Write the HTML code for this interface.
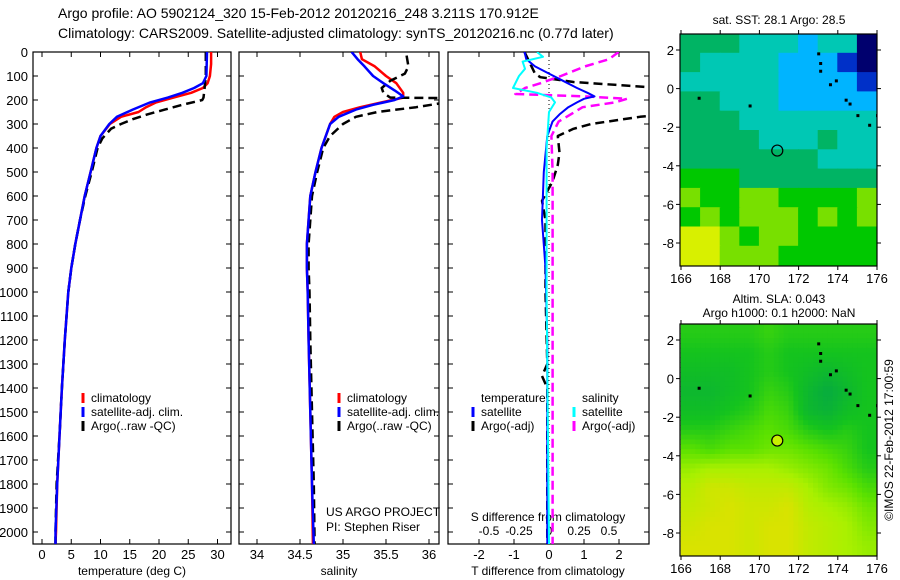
<!DOCTYPE html>
<html><head><meta charset="utf-8"><style>
html,body{margin:0;padding:0;background:#fff;}
svg{display:block;font-family:"Liberation Sans",sans-serif;}
</style></head><body>
<svg id="fig" width="900" height="580" viewBox="0 0 900 580" xmlns="http://www.w3.org/2000/svg">
<text x="58" y="18" font-size="14">Argo profile: AO 5902124_320 15-Feb-2012 20120216_248 3.211S 170.912E</text>
<text x="58" y="38" font-size="14">Climatology: CARS2009. Satellite-adjusted climatology: synTS_20120216.nc (0.77d later)</text>
<text x="779" y="24" font-size="12" text-anchor="middle">sat. SST: 28.1 Argo: 28.5</text>
<text x="779" y="303" font-size="12" text-anchor="middle">Altim. SLA: 0.043</text>
<text x="779" y="317" font-size="12" text-anchor="middle">Argo h1000: 0.1 h2000: NaN</text>
<text transform="translate(893,440) rotate(-90)" font-size="12" text-anchor="middle">©IMOS 22-Feb-2012 17:00:59</text>
<g id="g"></g>
</svg>
<script>
// ---------- data ----------
const depthTicks=[0,100,200,300,400,500,600,700,800,900,1000,1100,1200,1300,1400,1500,1600,1700,1800,1900,2000];
const tempTicks=[0,5,10,15,20,25,30];
const salTicks=[34,34.5,35,35.5,36];
const tdiffTicks=[-2,-1,0,1,2];
const sdiffTicks=[-0.5,-0.25,0,0.25,0.5];
const sdiffTickLabels=['-0.5','-0.25','0','0.25','0.5'];
const lonTicks=[166,168,170,172,174,176];
const latTicks=[2,0,-2,-4,-6,-8];

const tClimDepth=[0,50,100,130,150,170,190,210,230,250,270,300,350,400,500,600,700,800,900,1000,1200,1400,1600,1800,2000,2050];
const tClimVal=[28.9,28.9,28.7,28.3,27.5,25.5,22.5,19.5,17.8,16.5,13.5,11.6,10,9.3,8.3,7.3,6.5,5.7,5.0,4.5,3.9,3.4,3.0,2.6,2.4,2.3];
const tSatDepth=[0,100,130,150,170,190,210,240,270,300,350,400,500,600,700,800,900,1000,1200,1400,1600,1800,2000,2050];
const tSatVal=[28.2,28.1,27.5,26,24,21.5,18.5,15.5,12.8,11.5,10,9.3,8.3,7.3,6.5,5.7,5.0,4.5,3.9,3.4,3.0,2.6,2.3,2.3];
const tArgoDepth=[0,100,150,190,200,220,240,260,280,300,320,360,400,500,600,700,800,900,1000,1200,1400,1600,1800,2000,2050];
const tArgoVal=[28,28,27.8,27.6,27.4,24,21,18,15.5,13.5,11.8,10.3,9.5,8.5,7.4,6.5,5.7,5.0,4.5,3.9,3.4,3.0,2.5,2.3,2.3];

const sClimDepth=[0,30,60,100,130,170,190,210,230,250,270,300,350,400,500,600,700,800,900,1000,1200,1500,1800,2050];
const sClimVal=[35.2,35.22,35.37,35.5,35.62,35.7,35.7,35.45,35.2,35.0,34.9,34.85,34.8,34.75,34.68,34.62,34.6,34.58,34.58,34.59,34.6,34.62,34.64,34.65];
const sSatDepth=[0,30,60,100,130,160,185,200,220,240,270,300,350,400,500,600,700,800,900,1000,1200,1500,1800,2050];
const sSatVal=[35.1,35.17,35.25,35.35,35.47,35.6,35.7,35.6,35.35,35.15,34.95,34.85,34.8,34.75,34.68,34.62,34.6,34.58,34.58,34.59,34.6,34.62,34.64,34.66];
const sArgoDepth=[15,60,90,120,150,170,190,192,200,210,230,250,270,300,350,400,500,600,700,800,900,1000,1200,1500,1800,2050];
const sArgoVal=[35.74,35.76,35.72,35.55,35.45,35.47,35.55,36.2,36.15,36.2,35.85,35.4,35.15,35.0,34.85,34.77,34.7,34.64,34.62,34.6,34.6,34.61,34.62,34.64,34.66,34.67];

const dTSatDepth=[0,30,60,90,120,150,170,185,195,210,230,260,290,350,500,700,900,1200,1500,2050];
const dTSatVal=[-0.7,-0.65,-0.4,0,0.4,0.8,1.1,1.3,1.0,0.8,0.55,0.3,0.1,-0.05,-0.15,-0.2,-0.1,-0.05,-0.05,-0.05];
const dTArgoDepth=[0,30,90,105,125,146,200,250,270,300,320,350,420,470,540,620,700,1000,1300,1350,1400,2050];
const dTArgoVal=[-0.7,-0.6,-0.4,-0.25,0.7,2.8,8,4,2.6,1.2,0.7,0.25,0.3,0.25,0.1,-0.2,-0.1,-0.1,-0.05,-0.2,-0.05,-0.05];
const dSSatDepth=[0,20,40,70,100,150,170,190,210,250,400,1000,2050];
const dSSatVal=[-0.1,-0.05,-0.22,-0.2,-0.25,-0.3,-0.1,0.02,0.05,0,-0.02,-0.02,0];
const dSArgoDepth=[0,30,60,100,130,150,175,185,195,210,230,260,290,350,500,1000,2050];
const dSArgoVal=[0.58,0.5,0.3,0.1,-0.07,-0.2,-0.28,0.3,0.65,0.55,0.28,0.18,0.08,0.02,0.03,0.03,0.03];

const sstGrid=[
[4,4,4,3,3,3,2,3,3,0],
[4,3,3,3,3,2,2,2,1,0],
[3,3,3,3,3,2,2,2,2,1],
[4,4,3,3,3,2,2,2,2,2],
[4,4,4,3,3,3,3,3,3,3],
[4,4,4,4,3,3,3,4,3,3],
[4,4,4,4,4,4,4,3,3,3],
[5,5,5,4,4,4,4,4,4,4],
[6,5,5,6,6,5,5,5,5,6],
[5,6,5,6,6,6,5,6,5,6],
[7,7,6,5,6,6,5,5,5,5],
[7,7,6,6,6,5,5,5,5,5]];
const slaGrid=[
[.35,.35,.35,.35,.4,.35,.35,.35,.35,.35],
[.3,.3,.3,.3,.35,.3,.3,.3,.3,.3],
[.25,.25,.25,.3,.35,.3,.25,.2,.25,.3],
[.2,.2,.25,.3,.4,.35,.2,.1,.2,.3],
[.25,.25,.3,.35,.45,.4,.2,.15,.25,.3],
[.35,.35,.4,.45,.5,.45,.35,.3,.35,.3],
[.5,.45,.5,.5,.55,.55,.5,.45,.4,.3],
[.65,.7,.7,.7,.7,.65,.6,.55,.45,.35],
[.75,.85,.85,.8,.8,.8,.7,.6,.55,.45],
[.8,.85,.9,.85,.85,.9,.75,.7,.65,.55],
[.85,.9,.9,.85,.9,.9,.8,.75,.7,.6],
[.9,.9,.9,.85,.9,.9,.8,.75,.7,.65]];
const floatLon=170.912, floatLat=-3.211;

// ---------- drawing ----------
const NS='http://www.w3.org/2000/svg';
const G=document.getElementById('g');
function mk(tag,attrs,parent){const e=document.createElementNS(NS,tag);for(const k in attrs)e.setAttribute(k,attrs[k]);(parent||G).appendChild(e);return e;}
function txt(x,y,s,size,anchor,parent){const t=mk('text',{x:x,y:y,'font-size':size,'text-anchor':anchor||'middle'},parent);t.textContent=s;return t;}

const plotTop=52,plotBot=544;
const yD=d=>plotTop+d*(plotBot-plotTop)/2050;
function drawFrame(x0,x1,name){
  const r=mk('rect',{x:x0,y:plotTop,width:x1-x0,height:plotBot-plotTop,fill:'none',stroke:'#000','stroke-width':1.2});
  
  
}
function yTicks(x0,x1,labels){
  depthTicks.forEach(d=>{
    const y=yD(d);
    mk('line',{x1:x0,y1:y,x2:x0+5,y2:y,stroke:'#000'});
    mk('line',{x1:x1,y1:y,x2:x1-5,y2:y,stroke:'#000'});
    if(labels){const t=txt(28,y+5,String(d),13,'end');
      
      }
  });
}
function xTicks(vals,labs,fx,ly){
  vals.forEach((v,i)=>{
    const x=fx(v);
    mk('line',{x1:x,y1:plotBot,x2:x,y2:plotBot-5,stroke:'#000'});
    mk('line',{x1:x,y1:plotTop,x2:x,y2:plotTop+5,stroke:'#000'});
    const t=txt(x,ly,labs[i],13);
    
    
  });
}
function drawLine(depths,vals,fx,color,w,dash,name,clip){
  const pts=depths.map((d,i)=>fx(vals[i]).toFixed(1)+','+yD(d).toFixed(1)).join(' ');
  const a={points:pts,fill:'none',stroke:color,'stroke-width':w,'stroke-linejoin':'round'};
  if(dash)a['stroke-dasharray']=dash;
  if(clip)a['clip-path']='url(#'+clip+')';
  const p=mk('polyline',a);
  
  
}
const defsEl=mk('defs',{});
[['c1',33,231],['c2',239,439],['c3',448,649]].forEach(c=>{const cp=mk('clipPath',{id:c[0]},defsEl);mk('rect',{x:c[1],y:plotTop,width:c[2]-c[1],height:plotBot-plotTop},cp);});

function legendItem(x,y,color,label,nm){
  const l=mk('line',{x1:x,y1:y-9,x2:x,y2:y+1,stroke:color,'stroke-width':3});
  
  
  const t=txt(x+8,y,label,12,'start');
  
  
}

// Panel 1: temperature
const fT=v=>42+v*5.85;
drawFrame(33,231,'temperature-panel');
yTicks(33,231,true);
xTicks(tempTicks,tempTicks.map(String),fT,559);
drawLine(tClimDepth,tClimVal,fT,'#ff0000',2.5,null,'temp-climatology-line','c1');
drawLine(tArgoDepth,tArgoVal,fT,'#000',2.5,'9,5','temp-argo-line','c1');
drawLine(tSatDepth,tSatVal,fT,'#0000ff',2.5,null,'temp-satellite-line','c1');
txt(132,575,'temperature (deg C)',12);
legendItem(83,402,'#ff0000','climatology','temp-legend-climatology');
legendItem(83,416,'#0000ff','satellite-adj. clim.','temp-legend-satellite');
legendItem(83,430,'#000','Argo(..raw -QC)','temp-legend-argo');

// Panel 2: salinity
const fS=v=>257+(v-34)*86;
drawFrame(239,439,'salinity-panel');
yTicks(239,439,false);
xTicks(salTicks,salTicks.map(String),fS,559);
drawLine(sClimDepth,sClimVal,fS,'#ff0000',2.5,null,'sal-climatology-line','c2');
drawLine(sArgoDepth,sArgoVal,fS,'#000',2.5,'9,5','sal-argo-line','c2');
drawLine(sSatDepth,sSatVal,fS,'#0000ff',2.5,null,'sal-satellite-line','c2');
txt(339,575,'salinity',12);
legendItem(339,402,'#ff0000','climatology','sal-legend-climatology');
legendItem(339,416,'#0000ff','satellite-adj. clim.','sal-legend-satellite');
legendItem(339,430,'#000','Argo(..raw -QC)','sal-legend-argo');
txt(326,516,'US ARGO PROJECT',12,'start');
txt(326,531,'PI: Stephen Riser',12,'start');

// Panel 3: differences
const fDT=v=>549+v*35;
const fDS=v=>549+v*120;
drawFrame(448,649,'difference-panel');
yTicks(448,649,false);
xTicks(tdiffTicks,tdiffTicks.map(String),fDT,559);
sdiffTicks.forEach((v,i)=>{const t=txt(fDS(v),535,sdiffTickLabels[i],12);
  
  });
txt(548,521,'S difference from climatology',12);
txt(548,575,'T difference from climatology',12);
mk('line',{x1:549,y1:plotTop,x2:549,y2:plotBot,stroke:'#000','stroke-dasharray':'1,3'});
drawLine(dTArgoDepth,dTArgoVal,fDT,'#000',2.5,'9,5','tdiff-argo-line','c3');
drawLine(dSArgoDepth,dSArgoVal,fDS,'#ff00ff',2.5,'9,5','sdiff-argo-line','c3');
drawLine(dTSatDepth,dTSatVal,fDT,'#0000ff',2,null,'tdiff-satellite-line','c3');
drawLine(dSSatDepth,dSSatVal,fDS,'#00ffff',2,null,'sdiff-satellite-line','c3');
txt(481,402,'temperature',12,'start');
txt(582,402,'salinity',12,'start');
legendItem(473,416,'#0000ff','satellite','legend-t-satellite');
legendItem(473,430,'#000','Argo(-adj)','legend-t-argo');
legendItem(574,416,'#00ffff','satellite','legend-s-satellite');
legendItem(574,430,'#ff00ff','Argo(-adj)','legend-s-argo');

// ---------- maps ----------
const sstPal=['#00006e','#0030c8','#00b4ff','#00c8b4','#00b464','#00c800','#78e000','#d8f000','#f0d800'];
function slaColor(v){
  const st=[[0,[0,160,80]],[0.3,[20,195,30]],[0.5,[90,225,0]],[0.7,[170,240,0]],[1,[240,220,0]]];
  for(let i=1;i<st.length;i++){if(v<=st[i][0]){const a=st[i-1],b=st[i],t=(v-a[0])/(b[0]-a[0]);
    const c=a[1].map((x,k)=>Math.round(x+(b[1][k]-x)*t));return 'rgb('+c.join(',')+')';}}
  return 'rgb(240,220,0)';
}
const mx0=680,mx1=877;
const fLon=v=>681+(v-166)*19.6;
function drawMap(y0,y1,grid,mode,name){
  const fLat=v=>y0+16+(2-v)*19.3;
  const latTop=2+16/19.3;
  const g=mk('g',{});
  
  
  const cp=mk('clipPath',{id:'clip'+name},defsEl);mk('rect',{x:mx0,y:y0,width:mx1-mx0,height:y1-y0},cp);
  const gi=mk('g',{'clip-path':'url(#clip'+name+')'},g);
  const rows=grid.length,cols=grid[0].length;
  if(mode==='sst'){
    grid.forEach((row,r)=>row.forEach((v,c)=>{
      const cell=mk('rect',{x:fLon(166+c)-0.5,y:fLat(latTop-r)-0.5,width:20.6,height:20.3,fill:sstPal[v]},gi);
      
      
    }));
  } else {
    const sub=4;
    for(let r=0;r<rows*sub;r++)for(let c=0;c<cols*sub;c++){
      const fr=Math.min(rows-1,Math.max(0,(r+0.5)/sub-0.5)),fc=Math.min(cols-1,Math.max(0,(c+0.5)/sub-0.5));
      const r0=Math.floor(fr),c0=Math.floor(fc),r1=Math.min(rows-1,r0+1),c1=Math.min(cols-1,c0+1),tr=fr-r0,tc=fc-c0;
      const v=(grid[r0][c0]*(1-tc)+grid[r0][c1]*tc)*(1-tr)+(grid[r1][c0]*(1-tc)+grid[r1][c1]*tc)*tr;
      const cell=mk('rect',{x:fLon(166+c/sub)-0.3,y:fLat(latTop-r/sub)-0.3,width:19.6/sub+0.6,height:19.3/sub+0.6,fill:slaColor(v)},gi);
      
      
    }
  }
  [[173,1.8],[173.1,1.3],[173.1,0.9],[173.6,0.2],[173.9,0.4],[174.4,-0.6],[174.6,-0.8],[175,-1.4],[175.6,-1.9],[176,-1.4],[169.5,-0.9],[166.9,-0.5]].forEach(p=>{
    mk('rect',{x:fLon(p[0])-1,y:fLat(p[1])-1.5,width:3,height:3,fill:'#000'},gi);
  });
  mk('rect',{x:mx0,y:y0,width:mx1-mx0,height:y1-y0,fill:'none',stroke:'#000','stroke-width':1.2},g);
  lonTicks.forEach(v=>{const x=fLon(v);mk('line',{x1:x,y1:y1,x2:x,y2:y1+4,stroke:'#000'},g);mk('line',{x1:x,y1:y0,x2:x,y2:y0-4,stroke:'#000'},g);
    const t=txt(x,y1+17,String(v),13,'middle',g);});
  latTicks.forEach(v=>{const y=fLat(v);mk('line',{x1:mx0,y1:y,x2:mx0-4,y2:y,stroke:'#000'},g);mk('line',{x1:mx1,y1:y,x2:mx1+4,y2:y,stroke:'#000'},g);
    const t=txt(674,y+5,String(v),13,'end',g);});
  const m=mk('circle',{cx:fLon(floatLon),cy:fLat(floatLat),r:5.5,fill:mode==='sst'?'none':'#c8f000',stroke:'#000','stroke-width':1.2},g);
  
  
}
drawMap(34,266,sstGrid,'sst','sst-map');
drawMap(324,556,slaGrid,'sla','sla-map');
</script>
</body></html>
